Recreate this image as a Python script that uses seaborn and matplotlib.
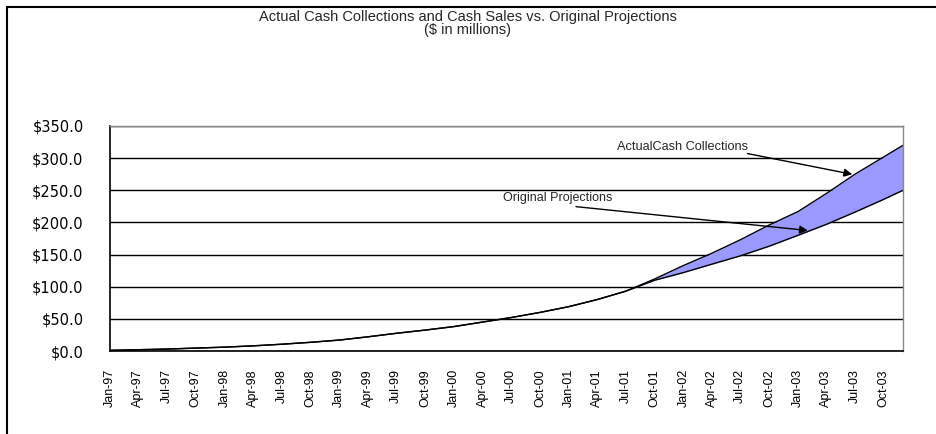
import pandas as pd
import matplotlib
matplotlib.use('Agg')
import matplotlib.pyplot as plt
from matplotlib.patches import Rectangle
import seaborn as sns

# Datos (millones de $), trimestral + dic-03
fechas = ['1997-01', '1997-04', '1997-07', '1997-10',
          '1998-01', '1998-04', '1998-07', '1998-10',
          '1999-01', '1999-04', '1999-07', '1999-10',
          '2000-01', '2000-04', '2000-07', '2000-10',
          '2001-01', '2001-04', '2001-07', '2001-10',
          '2002-01', '2002-04', '2002-07', '2002-10',
          '2003-01', '2003-04', '2003-07', '2003-10', '2003-12']
proyecciones = [1.0, 2.0, 3.0, 4.5, 6.0, 8.0, 10.5, 13.5,
                17.0, 22.0, 27.5, 32.5, 38.0, 45.0, 52.0, 60.0,
                69.0, 80.0, 93.0, 110.0, 122.0, 135.0, 148.0, 163.0,
                180.0, 197.0, 216.0, 236.0, 250.0]
cobros_reales = [1.0, 2.0, 3.0, 4.5, 6.0, 8.0, 10.5, 13.5,
                 17.0, 22.0, 27.5, 32.5, 38.0, 45.0, 52.0, 60.0,
                 69.0, 80.0, 93.0, 112.0, 133.0, 152.0, 173.0, 196.0,
                 217.0, 245.0, 275.0, 302.0, 320.0]
etiquetas_x = ['Jan-97', 'Apr-97', 'Jul-97', 'Oct-97', 'Jan-98', 'Apr-98', 'Jul-98', 'Oct-98',
               'Jan-99', 'Apr-99', 'Jul-99', 'Oct-99', 'Jan-00', 'Apr-00', 'Jul-00', 'Oct-00',
               'Jan-01', 'Apr-01', 'Jul-01', 'Oct-01', 'Jan-02', 'Apr-02', 'Jul-02', 'Oct-02',
               'Jan-03', 'Apr-03', 'Jul-03', 'Oct-03']
ticks_y = [0, 50, 100, 150, 200, 250, 300, 350]

df = pd.DataFrame({'Fecha': pd.to_datetime(fechas),
                   'Proyecciones': proyecciones,
                   'Reales': cobros_reales})

sns.set_style('white')
plt.rcParams['font.family'] = ['Liberation Sans Narrow', 'Liberation Sans', 'DejaVu Sans']

fig = plt.figure(figsize=(9.36, 4.34), dpi=100)
ax = fig.add_axes([110 / 936, 1 - 351 / 434, 793 / 936, 225 / 434])

# Banda entre real y proyectado
ax.fill_between(df['Fecha'], df['Proyecciones'], df['Reales'], color='#9999FF', lw=0)
sns.lineplot(data=df, x='Fecha', y='Reales', color='black', lw=1, ax=ax)
sns.lineplot(data=df, x='Fecha', y='Proyecciones', color='black', lw=1, ax=ax)

ax.set_xlim(pd.Timestamp('1997-01-01'), pd.Timestamp('2003-12-01'))
ax.set_ylim(0, 350)
ax.set_yticks(ticks_y)
ax.set_yticklabels([f'${v:.1f}' for v in ticks_y], fontsize=10.5, family='DejaVu Sans')
ax.set_xticks(pd.to_datetime(fechas[:-1]))
ax.set_xticklabels(etiquetas_x, rotation=90, fontsize=9)
ax.set_xlabel('')
ax.set_ylabel('')
ax.grid(axis='y', color='black', lw=1)
ax.set_axisbelow(True)
ax.tick_params(axis='both', direction='out', length=5, width=1, color='black', labelcolor='black')
ax.tick_params(axis='y', pad=14)
ax.tick_params(axis='x', pad=8)
for lado in ['left', 'bottom']:
    ax.spines[lado].set_color('black')
    ax.spines[lado].set_linewidth(1.2)
for lado in ['top', 'right']:
    ax.spines[lado].set_color('#888888')
    ax.spines[lado].set_linewidth(1)

# Anotaciones
ax.text(pd.Timestamp('2001-12-28'), 317, 'ActualCash Collections', ha='center', va='center', fontsize=9.2)
ax.annotate('', xy=(pd.Timestamp('2003-07-01'), 274), xytext=(pd.Timestamp('2002-07-15'), 308),
            arrowprops=dict(arrowstyle='-|>', color='black', lw=1, mutation_scale=12))
ax.text(pd.Timestamp('2000-11-28'), 238, 'Original Projections', ha='center', va='center', fontsize=9)
ax.annotate('', xy=(pd.Timestamp('2003-02-10'), 187), xytext=(pd.Timestamp('2001-01-15'), 225),
            arrowprops=dict(arrowstyle='-|>', color='black', lw=1, mutation_scale=12))

fig.text(0.5, 1 - 17 / 434, 'Actual Cash Collections and Cash Sales vs. Original Projections',
         ha='center', va='center', fontsize=10.5)
fig.text(0.5, 1 - 30 / 434, '($ in millions)', ha='center', va='center', fontsize=10.5)

# Marco exterior
fig.patches.append(Rectangle((7 / 936, -0.1), 1.2, 1.1 - 7 / 434, transform=fig.transFigure,
                             fill=False, edgecolor='black', lw=1.5))

fig.savefig('out.png', dpi=100)
